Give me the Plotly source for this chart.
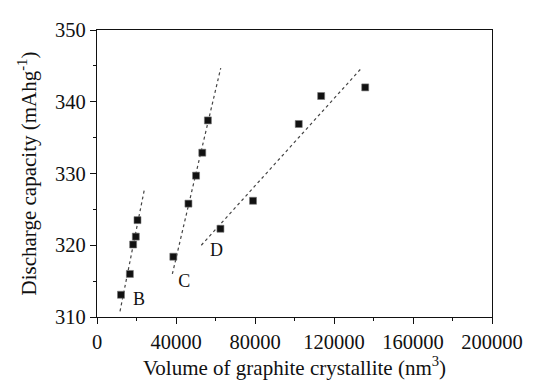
import plotly.graph_objects as go

# Data
b_x = [12150, 16650, 18300, 19650, 20500]
b_y = [313.1, 316.0, 320.1, 321.2, 323.5]
c_x = [38650, 46300, 50150, 53300, 56150]
c_y = [318.4, 325.8, 329.7, 332.9, 337.4]
d_x = [62500, 79000, 102150, 113500, 135800]
d_y = [322.3, 326.2, 336.9, 340.8, 342.0]

# fitted trend lines (end points)
b_fit_x = [11650, 24150]
b_fit_y = [310.8, 328.0]
c_fit_x = [38150, 62650]
c_fit_y = [316.0, 344.7]
d_fit_x = [52800, 133650]
d_fit_y = [320.0, 344.6]

labels = ["B", "C", "D"]
label_x = [21300, 44150, 60500]
label_y = [312.3, 314.8, 319.1]

x_ticks = [0, 40000, 80000, 120000, 160000, 200000]
y_ticks = [310, 320, 330, 340, 350]

FONT = "Liberation Serif, Times New Roman, serif"
FS = 20.5
FT = 21

fig = go.Figure()
for fx, fy in [(b_fit_x, b_fit_y), (c_fit_x, c_fit_y), (d_fit_x, d_fit_y)]:
    fig.add_trace(go.Scatter(x=fx, y=fy, mode="lines",
                             line=dict(color="#444", width=1.2, dash="dot"),
                             showlegend=False, hoverinfo="skip"))
for px, py in [(b_x, b_y), (c_x, c_y), (d_x, d_y)]:
    fig.add_trace(go.Scatter(x=px, y=py, mode="markers",
                             marker=dict(symbol="square", size=7, color="#111",
                                         line=dict(color="#777", width=0.6)),
                             showlegend=False))
fig.add_trace(go.Scatter(x=label_x, y=label_y, mode="text", text=labels,
                         textfont=dict(family=FONT, size=18, color="#111"),
                         showlegend=False, hoverinfo="skip"))

axis_common = dict(showgrid=False, zeroline=False, showline=True, linecolor="#111",
                   linewidth=1.3, mirror=True, ticks="outside", ticklen=6,
                   tickwidth=1.1, tickcolor="#111",
                   tickfont=dict(family=FONT, size=FS, color="#111"))

fig.update_xaxes(range=[0, 200000], tickvals=x_ticks,
                 ticktext=[str(v) for v in x_ticks],
                 minor=dict(dtick=20000, ticks="outside", ticklen=3, tickcolor="#111", tickwidth=1),
                 title=dict(text="Volume of graphite crystallite (nm<sup>3</sup>)",
                            font=dict(family=FONT, size=FT, color="#111"), standoff=3),
                 **axis_common)
fig.update_yaxes(range=[310, 350], tickvals=y_ticks,
                 minor=dict(dtick=5, ticks="outside", ticklen=3, tickcolor="#111", tickwidth=1),
                 title=dict(text="Discharge capacity (mAhg<sup>-1</sup>)",
                            font=dict(family=FONT, size=FT, color="#111"), standoff=12),
                 **axis_common)

fig.update_layout(width=526, height=373, plot_bgcolor="white", paper_bgcolor="white",
                  margin=dict(l=89, r=37, t=11, b=63), showlegend=False)

fig.write_html("out.html")
